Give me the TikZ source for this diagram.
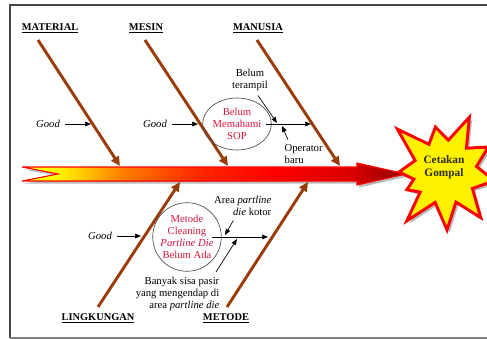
\documentclass[tikz,border=0pt]{standalone}
\usepackage{fontspec}
\setmainfont{Liberation Serif}
\usepackage{tikz}
\usetikzlibrary{arrows.meta, shapes.geometric, positioning}
\definecolor{bone}{RGB}{153,60,10}
\definecolor{redtext}{RGB}{220,20,60}
\definecolor{framegray}{RGB}{70,70,70}
\definecolor{gompal}{RGB}{45,45,0}
\pgfdeclarehorizontalshading{spinefill}{100bp}{color(0bp)=(yellow); color(29bp)=(yellow); color(38bp)=(orange); color(48bp)=(red!70!orange); color(58bp)=(red); color(68bp)=(red!85!black); color(75bp)=(red!55!black); color(100bp)=(red!55!black)}

\begin{document}
\begin{tikzpicture}[x=0.75pt, y=-0.75pt,
  every node/.style={font=\fontsize{8}{9}\selectfont},
  bonearr/.style={draw=bone, line width=2.2pt, -{Triangle[length=7pt,width=6.5pt]}},
  lbl/.style={font=\fontsize{7.8}{9}\selectfont\bfseries},
  small/.style={-{Triangle[length=4.5pt,width=3.5pt]}, line width=0.5pt},
  cause/.style={draw=gray!60!black, line width=0.5pt, text=redtext, align=center, inner sep=0pt},
]
  \useasboundingbox (0,0) rectangle (487,339);
  \clip (0,0) rectangle (487,339);

  \draw[framegray, line width=1.4pt] (495,5) -- (10,5) -- (10,338);
  \draw[gray, line width=0.8pt] (10,338) -- (495,338);

  \fill[gray!55] (24,169.5) -- (359,169.5) -- (359,166.5) -- (408,176.5) -- (359,187.5) -- (359,183.5) -- (24,183.5) -- (60,176.5) -- cycle;
  \draw[red, line width=0.8pt, shading=spinefill] (22,167) -- (357,167) -- (357,163) -- (406,174) -- (357,185) -- (357,181) -- (22,181) -- (58,174) -- cycle;

  \begin{scope}[shift={(445,172)}]
    \fill[gray!55] plot[xshift=2, yshift=-2] coordinates {(180:46) (201:32) (222:64) (240:32) (258:46) (276:32) (294:60) (312:32) (330:50) (350:32) (10:50) (31:32) (52:58) (70:32) (88:58) (108:32) (128:62) (141:32) (155:42) (167:32)} -- cycle;
    \draw[red, line width=2.2pt, fill=yellow, line join=miter] plot coordinates {(180:46) (201:32) (222:64) (240:32) (258:46) (276:32) (294:60) (312:32) (330:50) (350:32) (10:50) (31:32) (52:58) (70:32) (88:58) (108:32) (128:62) (141:32) (155:42) (167:32)} -- cycle;
  \end{scope}
  \node[font=\fontsize{8.5}{10}\selectfont\bfseries, text=gompal, align=center] (effect) at (444,167) {Cetakan\\Gompal};

  \node[lbl] (material) at (50,28) {\underline{MATERIAL}};
  \node[lbl] (mesin) at (146,28) {\underline{MESIN}};
  \node[lbl] (manusia) at (258,28) {\underline{MANUSIA}};
  \node[lbl] (lingkungan) at (98,318) {\underline{LINGKUNGAN}};
  \node[lbl] (metode) at (226,318) {\underline{METODE}};

  \coordinate (matS) at (38,40);
  \coordinate (matE) at (120,166);
  \coordinate (mesS) at (145,40);
  \coordinate (mesE) at (228,166);
  \coordinate (manS) at (257,40);
  \coordinate (manE) at (340,166);
  \coordinate (linS) at (98,307);
  \coordinate (linE) at (180,182);
  \coordinate (metS) at (227,307);
  \coordinate (metE) at (308,182);
  \draw[bonearr] (matS) -- (matE);
  \draw[bonearr] (mesS) -- (mesE);
  \draw[bonearr] (manS) -- (manE);
  \draw[bonearr] (linS) -- (linE);
  \draw[bonearr] (metS) -- (metE);

  \node[font=\fontsize{8}{9}\selectfont\itshape] (good1) at (48,124) {Good};
  \node[font=\fontsize{8}{9}\selectfont\itshape] (good2) at (155,124) {Good};
  \node[font=\fontsize{8}{9}\selectfont\itshape] (good3) at (100,236) {Good};
  \coordinate (g1) at (91,124);
  \coordinate (g2) at (198,124);
  \coordinate (g3) at (141,236);
  \draw[small] (good1) -- (g1);
  \draw[small] (good2) -- (g2);
  \draw[small] (good3) -- (g3);

  \node[cause, ellipse, minimum width=42.75pt, minimum height=39pt] (sop) at (237,124) {Belum\\Memahami\\SOP};
  \coordinate (manB) at (311,124);
  \draw[small] ([xshift=-4pt]sop.east) -- (manB);
  \node[align=center] (terampil) at (250,80) {Belum\\terampil};
  \coordinate (t1) at (277,123);
  \draw[small] ([xshift=6pt]terampil.south) -- (t1);
  \node[align=left, anchor=west] (operator) at (280,154) {Operator\\baru};
  \coordinate (o1) at (282,126);
  \draw[small] ([xshift=6pt]operator.north west) -- (o1);

  \node[cause, circle, minimum size=50pt] (cleaning) at (187,237) {Metode\\Cleaning\\\textit{Partline Die}\\Belum Ada};
  \coordinate (metB) at (268,237);
  \draw[small] ([xshift=-7pt]cleaning.east) -- (metB);
  \node[align=right, anchor=east] (kotor) at (276,206) {Area \textit{partline}\\\textit{die} kotor};
  \coordinate (k1) at (225,235);
  \draw[small] ([xshift=-7pt]kotor.south) -- (k1);
  \node[align=right, anchor=north east] (pasir) at (224,272) {Banyak sisa pasir\\yang mengendap di\\area \textit{partline die}};
  \coordinate (p1) at (237,239);
  \draw[small] ([xshift=-6pt]pasir.north east) -- (p1);
\end{tikzpicture}
\end{document}
